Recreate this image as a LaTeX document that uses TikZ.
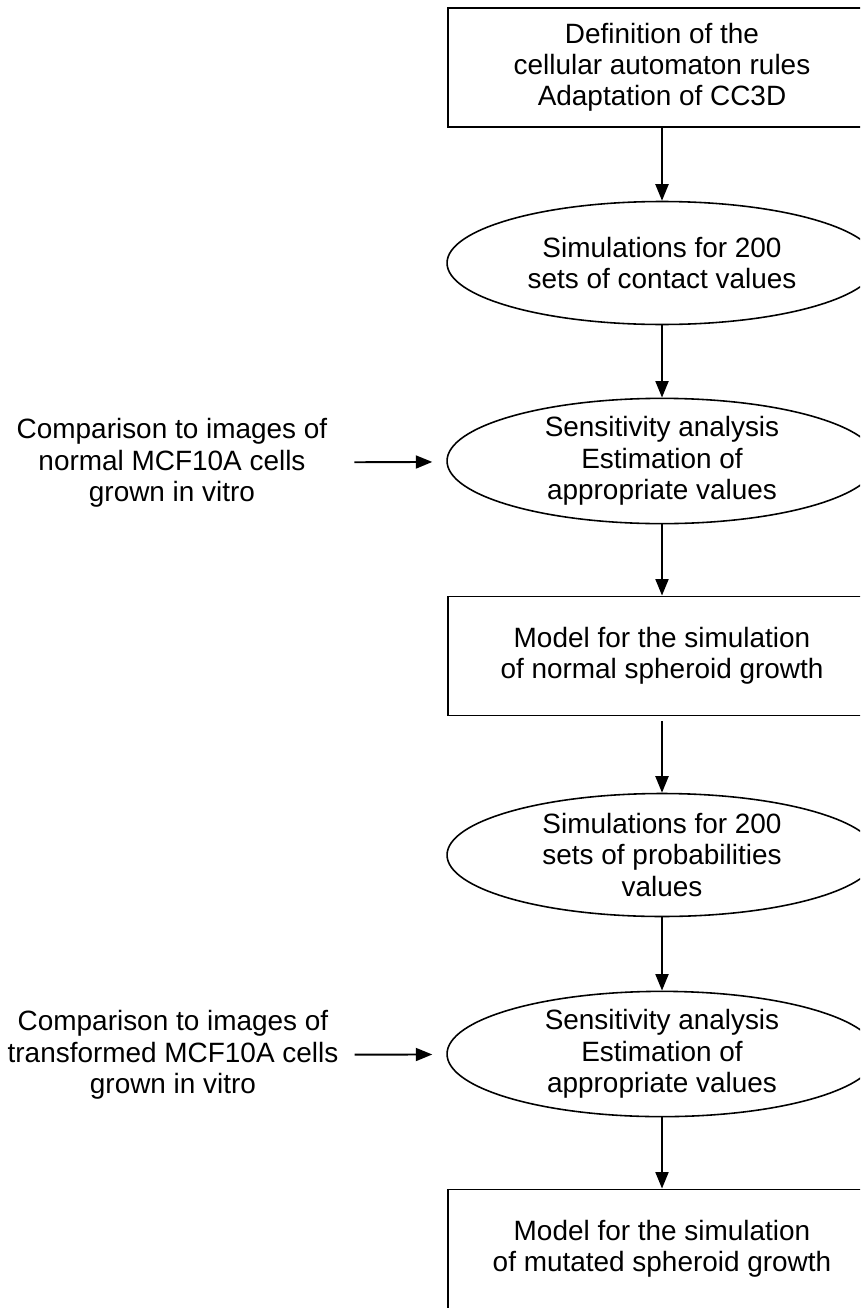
\documentclass[tikz,border=0pt]{standalone}
\usepackage{fontspec}
\setmainfont{Liberation Sans}
\usepackage{tikz}
\usetikzlibrary{shapes.geometric,arrows.meta}

\begin{document}
\begin{tikzpicture}[x=0.02cm, y=-0.02cm,
  every node/.style={font=\fontsize{15.9pt}{17.8pt}\selectfont, align=center},
  stagebox/.style={draw, line width=1.1pt, rectangle, minimum width=8.56cm, minimum height=2.38cm, inner sep=0pt},
  stageell/.style={draw, line width=0.9pt, ellipse, minimum width=8.6cm, minimum height=2.46cm, inner sep=0pt},
  flow/.style={line width=1.1pt, -{Triangle[length=0.33cm, width=0.26cm]}}]
\useasboundingbox (0,0) rectangle (860,1308);
\clip (0,0) rectangle (860,1308);
\node[stagebox] (rules) at (662,67.5) {Definition of the\\cellular automaton rules\\Adaptation of CC3D};
\node[stageell] (simcontact) at (662,263) {Simulations for 200\\sets of contact values};
\node[stageell] (sensnormal) at (662,461) {Sensitivity analysis\\Estimation of\\appropriate values};
\node[stagebox] (modnormal) at (662,656) {Model for the simulation\\of normal spheroid growth};
\node[stageell] (simprob) at (662,855) {Simulations for 200\\sets of probabilities\\values};
\node[stageell] (sensmut) at (662,1054) {Sensitivity analysis\\Estimation of\\appropriate values};
\node[stagebox] (modmut) at (662,1249) {Model for the simulation\\of mutated spheroid growth};
\node (imgnormal) at (172,463) {Comparison to images of\\normal MCF10A cells\\grown in vitro};
\node (imgmut) at (173,1055) {Comparison to images of\\transformed MCF10A cells\\grown in vitro};
% main chain
\draw[flow] (rules) -- (simcontact);
\draw[flow] (simcontact) -- (sensnormal);
\draw[flow] (sensnormal) -- (modnormal);
\draw[flow, shorten <=0.1cm] (modnormal) -- (simprob);
\draw[flow] (simprob) -- (sensmut);
\draw[flow] (sensmut) -- (modmut);
% image comparisons
\draw[flow, shorten <=0.42cm, shorten >=0.28cm] (imgnormal) -- (sensnormal);
\draw[flow, shorten <=0.2cm, shorten >=0.28cm] (imgmut) -- (sensmut);
\end{tikzpicture}
\end{document}
